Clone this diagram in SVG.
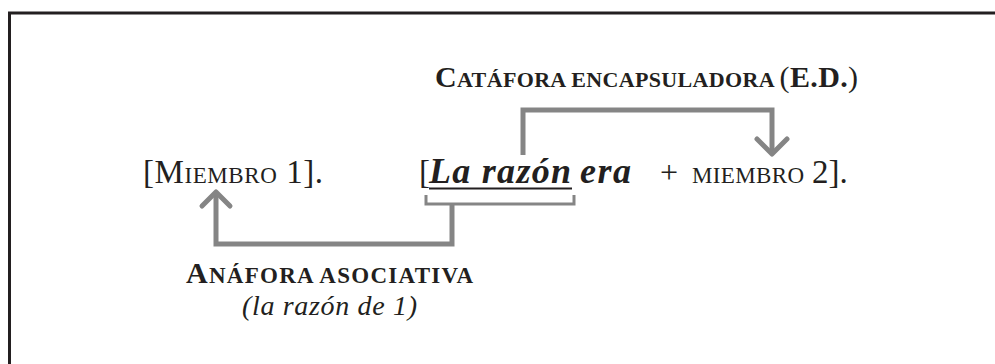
<svg xmlns="http://www.w3.org/2000/svg" width="995" height="364" viewBox="0 0 995 364">
<style>
.t{font-family:"Liberation Serif","Times New Roman",serif;fill:#231f20}
.bi{font-family:"Liberation Serif","Times New Roman",serif;font-weight:bold;font-style:italic;fill:#231f20}
.b{font-weight:bold}
.i{font-style:italic}
.c{fill:none;stroke:#858585;stroke-width:5;stroke-linejoin:miter}
.h{fill:none;stroke:#858585;stroke-width:5;stroke-linecap:round;stroke-linejoin:round}
</style>
<rect x="0" y="0" width="995" height="364" fill="#fff"/>
<path d="M9.5,364 V13 H995" fill="none" stroke="#231f20" stroke-width="3"/>

<g id="catafora-label">
<text class="t b" x="435" y="87" textLength="423" lengthAdjust="spacing"><tspan font-size="30">C</tspan><tspan font-size="22">ATÁFORA ENCAPSULADORA </tspan><tspan font-size="30" font-weight="normal">(</tspan><tspan font-size="30">E.D.</tspan><tspan font-size="30" font-weight="normal">)</tspan></text>
</g>

<g id="miembro-1">
<text class="t" x="143" y="183" textLength="180" lengthAdjust="spacing"><tspan font-size="33">[M</tspan><tspan font-size="23">IEMBRO</tspan><tspan font-size="33"> 1].</tspan></text>
</g>

<g id="la-razon-era">
<text class="t" x="419" y="183" font-size="33">[</text>
<text class="bi" x="429" y="183" font-size="36" textLength="142" lengthAdjust="spacing">La razón</text>
<line x1="429" y1="188.5" x2="572" y2="188.5" stroke="#231f20" stroke-width="2"/>
<text class="bi" x="580" y="183" font-size="36" textLength="51" lengthAdjust="spacing">era</text>
<text class="t" x="660" y="183" font-size="32">+</text>
<text class="t" x="692" y="183" font-size="23" textLength="112" lengthAdjust="spacing">MIEMBRO</text>
<text class="t" x="812" y="183" font-size="33">2].</text>
</g>

<g id="anafora-label">
<text class="t b" x="186" y="283" textLength="287" lengthAdjust="spacing"><tspan font-size="30">A</tspan><tspan font-size="23">NÁFORA ASOCIATIVA</tspan></text>
<text class="t i" x="242" y="315" font-size="28" textLength="175" lengthAdjust="spacing">(la razón de 1)</text>
</g>

<g id="connectors">
<path class="c" d="M523,155 V110 H772 V152"/>
<path class="h" d="M757,139 L772,154 L787,139"/>
<path d="M426,195 V204 H574 V195" fill="none" stroke="#858585" stroke-width="3"/>
<path class="c" d="M452,204 V244 H216 V193"/>
<path class="h" d="M202,206 L216,192 L230,206"/>
</g>
</svg>
